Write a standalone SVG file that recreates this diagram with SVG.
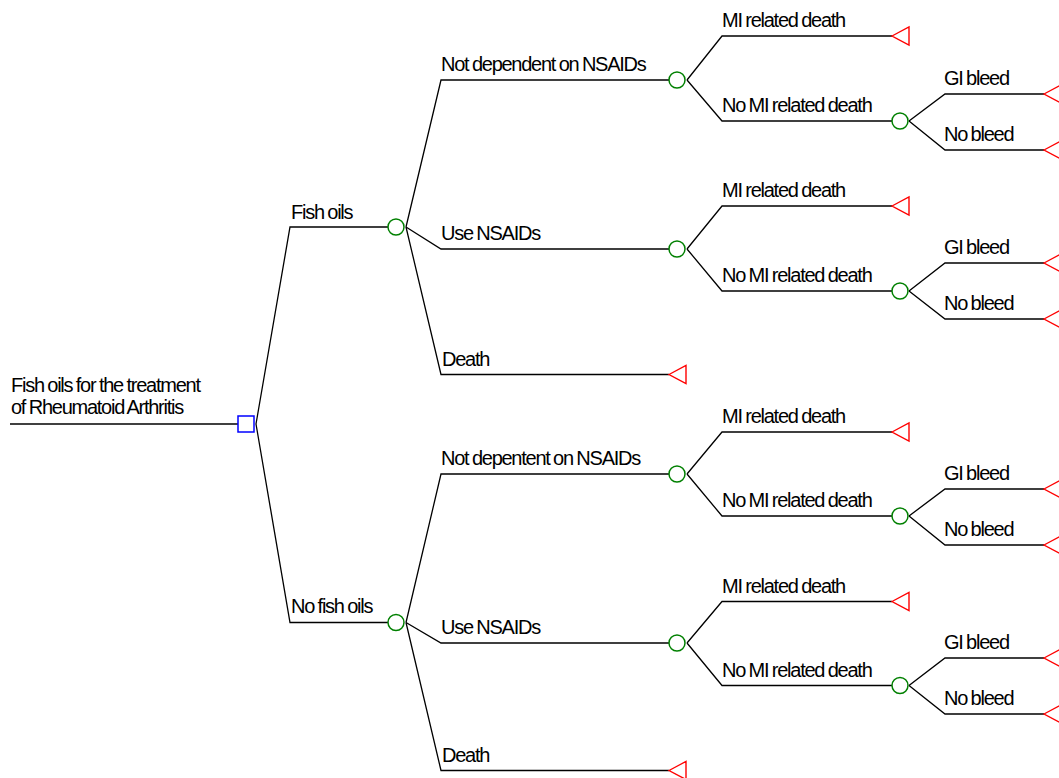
<svg xmlns="http://www.w3.org/2000/svg" width="1059" height="778" viewBox="0 0 1059 778">
<style>
.c{fill:none;stroke:#000;stroke-width:1.3}
.ch{fill:#fff;stroke:#008000;stroke-width:1.5}
.dec{fill:#fff;stroke:#0000ff;stroke-width:1.5}
.term{fill:#fff;stroke:#ff0000;stroke-width:1.4}
text{font-family:"Liberation Sans",Arial,sans-serif;font-size:20px;letter-spacing:-1.25px;word-spacing:-0.8px;fill:#000}
</style>
<rect width="1059" height="778" fill="#fff"/>
<g id="connectors">
<path class="c" d="M10 424H238"/>
<path class="c" d="M256 424L290 227H388"/>
<path class="c" d="M256 424L290 622.5H388"/>
<path class="c" d="M406 227L441 80H669"/>
<path class="c" d="M406 227L441 249H669"/>
<path class="c" d="M406 227L441 374.5H669"/>
<path class="c" d="M687 80L722 36H892"/>
<path class="c" d="M687 80L722 121H892"/>
<path class="c" d="M909 121L945 94H1044"/>
<path class="c" d="M909 121L945 150H1044"/>
<path class="c" d="M687 249L722 206H892"/>
<path class="c" d="M687 249L722 291H892"/>
<path class="c" d="M909 291L945 263H1044"/>
<path class="c" d="M909 291L945 319H1044"/>
<path class="c" d="M406 622.5L441 474H669"/>
<path class="c" d="M406 622.5L441 643H669"/>
<path class="c" d="M406 622.5L441 770.5H669"/>
<path class="c" d="M687 474L722 432H892"/>
<path class="c" d="M687 474L722 516H892"/>
<path class="c" d="M909 516L945 489H1044"/>
<path class="c" d="M909 516L945 545H1044"/>
<path class="c" d="M687 643L722 601.5H892"/>
<path class="c" d="M687 643L722 685.5H892"/>
<path class="c" d="M909 685.5L945 658H1044"/>
<path class="c" d="M909 685.5L945 714H1044"/>
</g>
<g id="labels">
<text x="11" y="391.5">Fish oils for the treatment</text>
<text x="11" y="414">of Rheumatoid Arthritis</text>
<text x="291" y="218.5">Fish oils</text>
<text x="291" y="613">No fish oils</text>
<text x="441" y="71">Not dependent on NSAIDs</text>
<text x="441" y="240">Use NSAIDs</text>
<text x="442" y="365.5">Death</text>
<text x="441" y="465">Not depentent on NSAIDs</text>
<text x="441" y="634">Use NSAIDs</text>
<text x="442" y="761.5">Death</text>
<text x="722" y="27">MI related death</text>
<text x="722" y="112">No MI related death</text>
<text x="722" y="197">MI related death</text>
<text x="722" y="282">No MI related death</text>
<text x="722" y="423">MI related death</text>
<text x="722" y="507">No MI related death</text>
<text x="722" y="592.5">MI related death</text>
<text x="722" y="676.5">No MI related death</text>
<text x="944" y="85">GI bleed</text>
<text x="944" y="141">No bleed</text>
<text x="944" y="254">GI bleed</text>
<text x="944" y="310">No bleed</text>
<text x="944" y="480">GI bleed</text>
<text x="944" y="536">No bleed</text>
<text x="944" y="649">GI bleed</text>
<text x="944" y="705">No bleed</text>
</g>
<g id="root"><rect class="dec" x="238" y="416" width="16" height="16"/></g>
<g id="chance-fish"><circle class="ch" cx="396" cy="227" r="8"/></g>
<g id="chance-nofish"><circle class="ch" cx="396" cy="622.5" r="8"/></g>
<g id="chance-f-nd"><circle class="ch" cx="677" cy="80" r="8"/></g>
<g id="chance-f-un"><circle class="ch" cx="677" cy="249" r="8"/></g>
<g id="chance-n-nd"><circle class="ch" cx="677" cy="474" r="8"/></g>
<g id="chance-n-un"><circle class="ch" cx="677" cy="643" r="8"/></g>
<g id="chance-f-nd-nomi"><circle class="ch" cx="900" cy="121" r="8"/></g>
<g id="chance-f-un-nomi"><circle class="ch" cx="900" cy="291" r="8"/></g>
<g id="chance-n-nd-nomi"><circle class="ch" cx="900" cy="516" r="8"/></g>
<g id="chance-n-un-nomi"><circle class="ch" cx="900" cy="685.5" r="8"/></g>
<g id="term-f-death"><polygon class="term" points="669,374.5 686,365.5 686,383.5"/></g>
<g id="term-n-death"><polygon class="term" points="669,770.5 686,761.5 686,779.5"/></g>
<g id="term-f-nd-mi"><polygon class="term" points="892,36 909,27 909,45"/></g>
<g id="term-f-un-mi"><polygon class="term" points="892,206 909,197 909,215"/></g>
<g id="term-n-nd-mi"><polygon class="term" points="892,432 909,423 909,441"/></g>
<g id="term-n-un-mi"><polygon class="term" points="892,601.5 909,592.5 909,610.5"/></g>
<g id="term-f-nd-gi"><polygon class="term" points="1044,94 1061,85 1061,103"/></g>
<g id="term-f-nd-nb"><polygon class="term" points="1044,150 1061,141 1061,159"/></g>
<g id="term-f-un-gi"><polygon class="term" points="1044,263 1061,254 1061,272"/></g>
<g id="term-f-un-nb"><polygon class="term" points="1044,319 1061,310 1061,328"/></g>
<g id="term-n-nd-gi"><polygon class="term" points="1044,489 1061,480 1061,498"/></g>
<g id="term-n-nd-nb"><polygon class="term" points="1044,545 1061,536 1061,554"/></g>
<g id="term-n-un-gi"><polygon class="term" points="1044,658 1061,649 1061,667"/></g>
<g id="term-n-un-nb"><polygon class="term" points="1044,714 1061,705 1061,723"/></g>
</svg>
